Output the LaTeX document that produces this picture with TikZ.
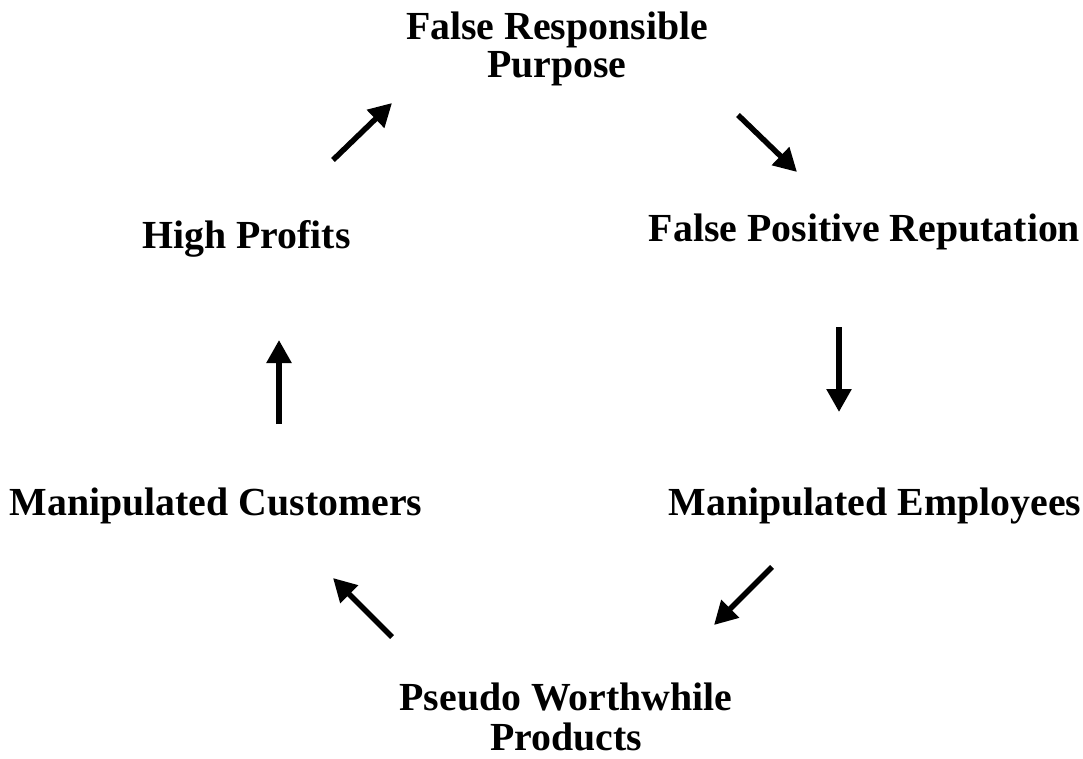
\documentclass[tikz,border=0pt]{standalone}
\usepackage{fontspec}
\setmainfont{Liberation Serif}
\usetikzlibrary{arrows.meta}
\begin{document}
\begin{tikzpicture}[x=1pt,y=-1pt,
  label text/.style={font=\bfseries\fontsize{39.8}{40}\selectfont, align=center, anchor=base, inner sep=0pt},
  cycle arrow/.style={line width=5.5pt, -{Triangle[width=24pt,length=23pt]}}]
  \useasboundingbox (0,0) rectangle (1083,759);

  % stages of the cycle (two-line labels are placed by their last baseline)
  \node[label text, font=\bfseries\fontsize{39.8}{38.5}\selectfont] (purpose) at (557,78) {False Responsible\\Purpose};
  \node[label text] (reputation) at (864.5,242) {False Positive Reputation};
  \node[label text] (employees)  at (875,515) {Manipulated Employees};
  \node[label text] (products)   at (566,750) {Pseudo Worthwhile\\Products};
  \node[label text] (customers)  at (216,515) {Manipulated Customers};
  \node[label text] (profits)    at (246.5,248) {High Profits};

  % arrow end points between the stages
  \coordinate (a1s) at (333,160); \coordinate (a1e) at (392,103);
  \coordinate (a2s) at (738,115); \coordinate (a2e) at (797,172);
  \coordinate (a3s) at (839,327); \coordinate (a3e) at (839,412);
  \coordinate (a4s) at (772,567); \coordinate (a4e) at (714,625);
  \coordinate (a5s) at (392,637); \coordinate (a5e) at (333,578);
  \coordinate (a6s) at (279,424); \coordinate (a6e) at (279,340);

  \draw[cycle arrow] (a1s) -- (a1e);
  \draw[cycle arrow] (a2s) -- (a2e);
  \draw[cycle arrow] (a3s) -- (a3e);
  \draw[cycle arrow] (a4s) -- (a4e);
  \draw[cycle arrow] (a5s) -- (a5e);
  \draw[cycle arrow] (a6s) -- (a6e);
\end{tikzpicture}
\end{document}
